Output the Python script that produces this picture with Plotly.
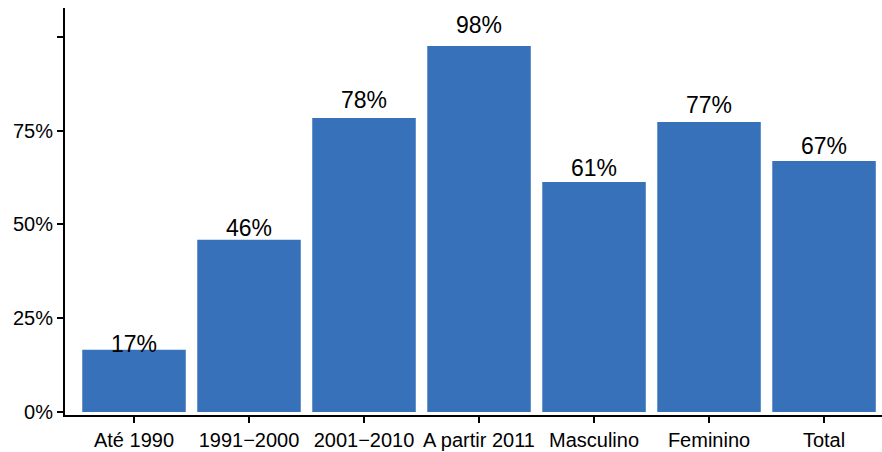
import plotly.graph_objects as go

categories = ["Até 1990", "1991−2000", "2001−2010", "A partir 2011", "Masculino", "Feminino", "Total"]
values = [16.6, 45.9, 78.4, 97.6, 61.3, 77.3, 66.9]
labels = ["17%", "46%", "78%", "98%", "61%", "77%", "67%"]
ytick_vals = [0, 25, 50, 75, 100]
ytick_text = ["0%", "25%", "50%", "75%", ""]

FONT = "Liberation Sans, Arial, sans-serif"
BAR_COLOR = "#3671B9"

fig = go.Figure()
fig.add_trace(go.Bar(
    x=list(range(len(categories))), y=values, width=0.9,
    marker=dict(color=BAR_COLOR, line=dict(width=0)),
    hoverinfo="skip",
))
fig.add_trace(go.Scatter(
    x=list(range(len(categories))), y=[v * 1.05 + 0.2 for v in values],
    mode="text", text=labels, textposition="middle center",
    textfont=dict(family=FONT, size=23, color="black"),
    hoverinfo="skip", cliponaxis=False,
))

fig.update_layout(
    width=882, height=452,
    margin=dict(l=65, r=0, t=8, b=37, autoexpand=False),
    paper_bgcolor="white", plot_bgcolor="white",
    showlegend=False,
    font=dict(family=FONT, color="black"),
    xaxis=dict(
        range=[-0.6, 6.504],
        tickmode="array", tickvals=list(range(len(categories))), ticktext=categories,
        showgrid=False, zeroline=False, automargin=False,
        showline=True, linecolor="black", linewidth=2,
        ticks="outside", ticklen=6, tickwidth=2, tickcolor="black",
        tickfont=dict(family=FONT, size=20, color="black"),
    ),
    yaxis=dict(
        range=[-0.8, 107.7],
        tickmode="array", tickvals=ytick_vals, ticktext=ytick_text,
        showgrid=False, zeroline=False, automargin=False,
        showline=True, linecolor="black", linewidth=2,
        ticks="outside", ticklen=6, tickwidth=2, tickcolor="black",
        tickfont=dict(family=FONT, size=20, color="black"),
    ),
)

fig.write_html(
    "out.html",
    config={"displayModeBar": False},
    post_script="document.body.style.margin='0';document.body.style.overflow='hidden';",
)
